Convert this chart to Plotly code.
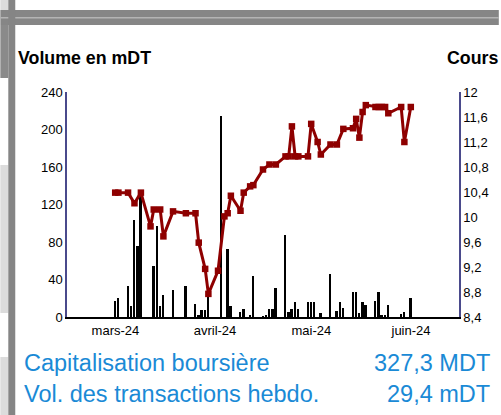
import plotly.graph_objects as go

# ---------------- data ----------------
price_dates = [
    "2024-02-29", "2024-03-01", "2024-03-04", "2024-03-06", "2024-03-08",
    "2024-03-11", "2024-03-12", "2024-03-14", "2024-03-15", "2024-03-18",
    "2024-03-22", "2024-03-25", "2024-03-26", "2024-03-28", "2024-03-29",
    "2024-04-01", "2024-04-03", "2024-04-04", "2024-04-05", "2024-04-08",
    "2024-04-09", "2024-04-11", "2024-04-12", "2024-04-15", "2024-04-17",
    "2024-04-19", "2024-04-22", "2024-04-23", "2024-04-24", "2024-04-25",
    "2024-04-26", "2024-04-29", "2024-04-30", "2024-05-02", "2024-05-03",
    "2024-05-06", "2024-05-08", "2024-05-10", "2024-05-13", "2024-05-14",
    "2024-05-15", "2024-05-16", "2024-05-17", "2024-05-20", "2024-05-21",
    "2024-05-22", "2024-05-23", "2024-05-24", "2024-05-28", "2024-05-29",
    "2024-05-31",
]
price_values = [
    10.39, 10.39, 10.39, 10.22, 10.39,
    9.85, 10.12, 10.12, 9.69, 10.09,
    10.06, 10.06, 9.59, 9.17, 8.77,
    9.14, 10.01, 10.06, 10.34, 10.10,
    10.39, 10.49, 10.51, 10.76, 10.84,
    10.84, 10.97, 10.97, 11.45, 10.97,
    10.97, 10.97, 11.49, 11.20, 11.00,
    11.16, 11.16, 11.41, 11.42, 11.57,
    11.27, 11.68, 11.79, 11.76, 11.76,
    11.76, 11.76, 11.66, 11.76, 11.20,
    11.76,
]

volume_dates = [
    "2024-02-29", "2024-03-01", "2024-03-04", "2024-03-05", "2024-03-06",
    "2024-03-07", "2024-03-08", "2024-03-12", "2024-03-13", "2024-03-14",
    "2024-03-15", "2024-03-18", "2024-03-22", "2024-03-25", "2024-03-26",
    "2024-03-27", "2024-03-28", "2024-03-29", "2024-04-02", "2024-04-04",
    "2024-04-05", "2024-04-08", "2024-04-09", "2024-04-11", "2024-04-12",
    "2024-04-15", "2024-04-16", "2024-04-17", "2024-04-18", "2024-04-19",
    "2024-04-22", "2024-04-23", "2024-04-24", "2024-04-25", "2024-04-26",
    "2024-04-29", "2024-04-30", "2024-05-01", "2024-05-03", "2024-05-06",
    "2024-05-08", "2024-05-09", "2024-05-10", "2024-05-13", "2024-05-14",
    "2024-05-15", "2024-05-16", "2024-05-17", "2024-05-20", "2024-05-21",
    "2024-05-22", "2024-05-23", "2024-05-24", "2024-05-28", "2024-05-29",
    "2024-05-31",
]
volume_values = [
    17, 20, 33, 12, 103,
    76, 135, 54, 97, 12,
    24, 29, 33, 14, 2,
    7, 7, 21, 214, 73,
    12, 5, 9, 2, 44,
    1, 2, 9, 9, 31,
    88, 5, 9, 16, 9,
    16, 16, 16, 4, 46,
    6, 16, 10, 27, 27,
    4, 16, 13, 17, 27,
    2, 2, 13, 3.5, 5.5,
    20.4,
]

month_ticks = ["2024-03-01", "2024-04-01", "2024-05-01", "2024-06-01"]
month_labels = ["mars-24", "avril-24", "mai-24", "juin-24"]

title_left = "Volume en mDT"
title_right = "Cours"
info_labels = ["Capitalisation boursière", "Vol. des transactions hebdo."]
info_values = ["327,3 MDT", "29,4 mDT"]

# ---------------- layout geometry (pixels) ----------------
W, H = 501, 415
L, R, T, B = 67, 461, 92, 317
PW, PH = R - L, B - T


def px(x):
    return (x - L) / PW


def py(y):
    return (B - y) / PH


FONT = "Liberation Sans, Arial, sans-serif"
DAY = 86400000

fig = go.Figure()
fig.add_trace(go.Bar(
    x=volume_dates, y=volume_values, yaxis="y",
    marker=dict(color="black", line=dict(width=0)),
    width=0.6 * DAY, showlegend=False,
))
fig.add_trace(go.Scatter(
    x=price_dates, y=price_values, yaxis="y2", mode="lines+markers",
    line=dict(color="#8e0000", width=3),
    marker=dict(symbol="square", size=6.5, color="#8e0000"),
    showlegend=False,
))

shapes = []


def rect(x0, y0, x1, y1, color):
    shapes.append(dict(type="rect", xref="paper", yref="paper",
                       x0=px(x0), x1=px(x1), y0=py(y0), y1=py(y1),
                       fillcolor=color, line=dict(width=0), layer="above"))


# frame pieces of the surrounding sheet
rect(0, 0, 8, 10, "#dcdcdc")
rect(0, 25, 8, 78, "#8a8a8a")
rect(0, 165, 8, 313, "#dcdcdc")
rect(0, 357, 8, 415, "#dcdcdc")
rect(0, 10, W, 25, "#868686")
rect(0, 17, W, 18.5, "#b4b4b4")
rect(8, 0, 15, H, "#858585")

annotations = [
    dict(text="<b>%s</b>" % title_left, x=px(15.5), y=py(58), xanchor="left",
         yanchor="middle", font=dict(size=17.8, color="black", family=FONT)),
    dict(text="<b>%s</b>" % title_right, x=px(447), y=py(58), xanchor="left",
         yanchor="middle", font=dict(size=17.8, color="black", family=FONT)),
]
for i, (lab, val) in enumerate(zip(info_labels, info_values)):
    yc = 362.5 + 31 * i
    annotations.append(dict(text=lab, x=px(22), y=py(yc), xanchor="left",
                            yanchor="middle",
                            font=dict(size=23.5, color="#1a8ad6", family=FONT)))
    annotations.append(dict(text=val, x=px(494), y=py(yc), xanchor="right",
                            yanchor="middle",
                            font=dict(size=23.5, color="#1a8ad6", family=FONT)))
for a in annotations:
    a.update(xref="paper", yref="paper", showarrow=False)

fig.update_layout(
    width=W, height=H, autosize=False,
    margin=dict(l=L, r=W - R, t=T, b=H - B, pad=0),
    paper_bgcolor="white", plot_bgcolor="white",
    separators=", ",
    font=dict(family=FONT, size=13, color="black"),
    bargap=0,
    xaxis=dict(
        type="date", range=["2024-02-14", "2024-06-15"],
        tickmode="array", tickvals=month_ticks, ticktext=month_labels,
        showline=True, linecolor="black", linewidth=2, ticks="",
        showgrid=False, zeroline=False, tickfont=dict(size=13),
        ticklabelshift=-3,
    ),
    yaxis=dict(
        range=[0, 240], dtick=40, tick0=0, showline=True, linecolor="#4a4a8c",
        linewidth=1.5, ticks="", showgrid=False, zeroline=False,
        tickfont=dict(size=13),
    ),
    yaxis2=dict(
        range=[8.4, 12], dtick=0.4, tick0=8.4, overlaying="y", side="right",
        showline=True, linecolor="#4a4a8c", linewidth=1.5, ticks="",
        showgrid=False, zeroline=False, tickfont=dict(size=13),
    ),
    shapes=shapes, annotations=annotations,
)

fig.write_html(
    "out.html",
    config={"displayModeBar": False},
    post_script="document.body.style.margin='0';"
                "document.body.style.overflow='hidden';",
)
